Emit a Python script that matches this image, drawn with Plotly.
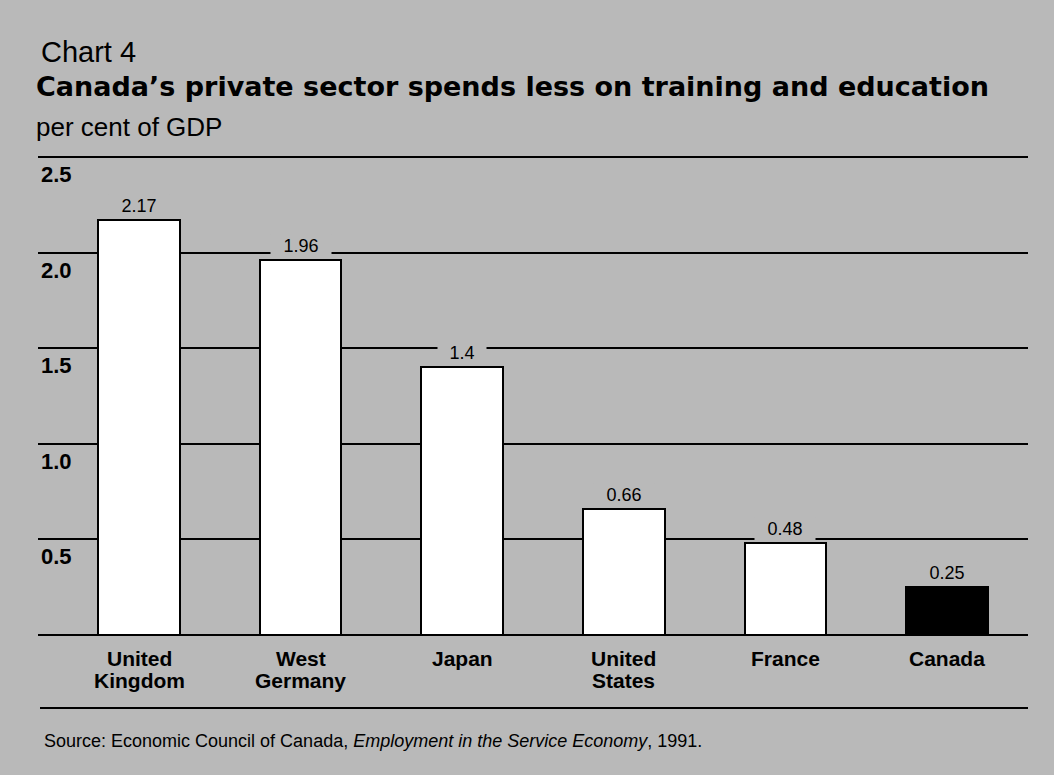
import plotly.graph_objects as go

# Private-sector spending on training and education, per cent of GDP
countries = ["United Kingdom", "West Germany", "Japan", "United States", "France", "Canada"]
label_lines = [["United", "Kingdom"], ["West", "Germany"], ["Japan"],
               ["United", "States"], ["France"], ["Canada"]]
values = [2.17, 1.96, 1.4, 0.66, 0.48, 0.25]
value_labels = ["2.17", "1.96", "1.4", "0.66", "0.48", "0.25"]
tick_vals = [0.5, 1.0, 1.5, 2.0, 2.5]
tick_labels = ["0.5", "1.0", "1.5", "2.0", "2.5"]
highlight = "Canada"

BG = "#b9b9b9"
FONT = "Liberation Sans, Arial, Helvetica, sans-serif"
TITLE_FONT = "DejaVu Sans, Liberation Sans, Arial, sans-serif"

W, H = 1054, 775
M_L, M_R, M_T, M_B = 38, 26, 155, 138
plot_h = H - M_T - M_B
plot_w = W - M_L - M_R


def paper_y(py):
    """Convert a page pixel row to paper coordinates."""
    return (H - M_B - py) / plot_h


fig = go.Figure()
fig.add_trace(go.Bar(
    x=countries,
    y=values,
    width=0.505,
    marker=dict(
        color=["black" if c == highlight else "white" for c in countries],
        line=dict(color="black", width=2),
    ),
    hoverinfo="x+y",
))

annotations = []

# value labels above each bar, boxed in the background colour so gridlines break around them
for c, v, t in zip(countries, values, value_labels):
    annotations.append(dict(
        x=c, y=v, xref="x", yref="y", text=t, showarrow=False,
        xanchor="center", yanchor="bottom", yshift=2,
        font=dict(family=FONT, size=18, color="black"),
        bgcolor=BG, borderpad=1, width=12 * len(t) + 10, align="center",
    ))

# y tick labels sit just under their gridlines, at the left edge
for v, t in zip(tick_vals, tick_labels):
    annotations.append(dict(
        x=0, y=v, xref="paper", yref="y", text=t, showarrow=False,
        xanchor="left", yanchor="top", xshift=1, yshift=-3,
        font=dict(family=FONT, size=22, color="black", weight="bold"),
    ))

# category names, one annotation per line for tight leading
for c, lines in zip(countries, label_lines):
    for j, line in enumerate(lines):
        annotations.append(dict(
            x=c, y=0, xref="x", yref="paper", text=line, showarrow=False,
            xanchor="center", yanchor="top", yshift=-8 - 22 * j,
            font=dict(family=FONT, size=21, color="black", weight="bold"),
        ))

# headings
annotations += [
    dict(x=0, y=1, xref="paper", yref="paper", text="Chart 4", showarrow=False,
         xanchor="left", yanchor="bottom", xshift=1, yshift=85,
         font=dict(family=FONT, size=29, color="black")),
    dict(x=0, y=1, xref="paper", yref="paper",
         text="Canada’s private sector spends less on training and education",
         showarrow=False, xanchor="left", yanchor="bottom", xshift=-4, yshift=51,
         font=dict(family=TITLE_FONT, size=27, color="black", weight="bold")),
    dict(x=0, y=1, xref="paper", yref="paper", text="per cent of GDP", showarrow=False,
         xanchor="left", yanchor="bottom", xshift=-4, yshift=11,
         font=dict(family=FONT, size=26, color="black")),
    dict(x=0, y=0, xref="paper", yref="paper",
         text="Source: Economic Council of Canada, <i>Employment in the Service Economy</i>, 1991.",
         showarrow=False, xanchor="left", yanchor="top", xshift=4, yshift=-92,
         font=dict(family=FONT, size=18, color="black")),
]

# rule separating the chart from the source line
shapes = [dict(type="line", xref="paper", yref="paper",
               x0=2 / plot_w, x1=1, y0=paper_y(708), y1=paper_y(708),
               line=dict(color="black", width=2))]

fig.update_layout(
    width=W, height=H,
    margin=dict(l=M_L, r=M_R, t=M_T, b=M_B, pad=0, autoexpand=False),
    paper_bgcolor=BG, plot_bgcolor=BG,
    showlegend=False,
    bargap=0,
    annotations=annotations,
    shapes=shapes,
    xaxis=dict(type="category", range=[-0.625, 5.501], showgrid=False,
               zeroline=False, showticklabels=False, showline=False, ticks=""),
    yaxis=dict(range=[-0.01, 2.51], tickvals=tick_vals, showticklabels=False,
               showgrid=True, gridcolor="black", gridwidth=2,
               zeroline=True, zerolinecolor="black", zerolinewidth=2,
               showline=False, ticks=""),
)

fig.write_html("out.html")
